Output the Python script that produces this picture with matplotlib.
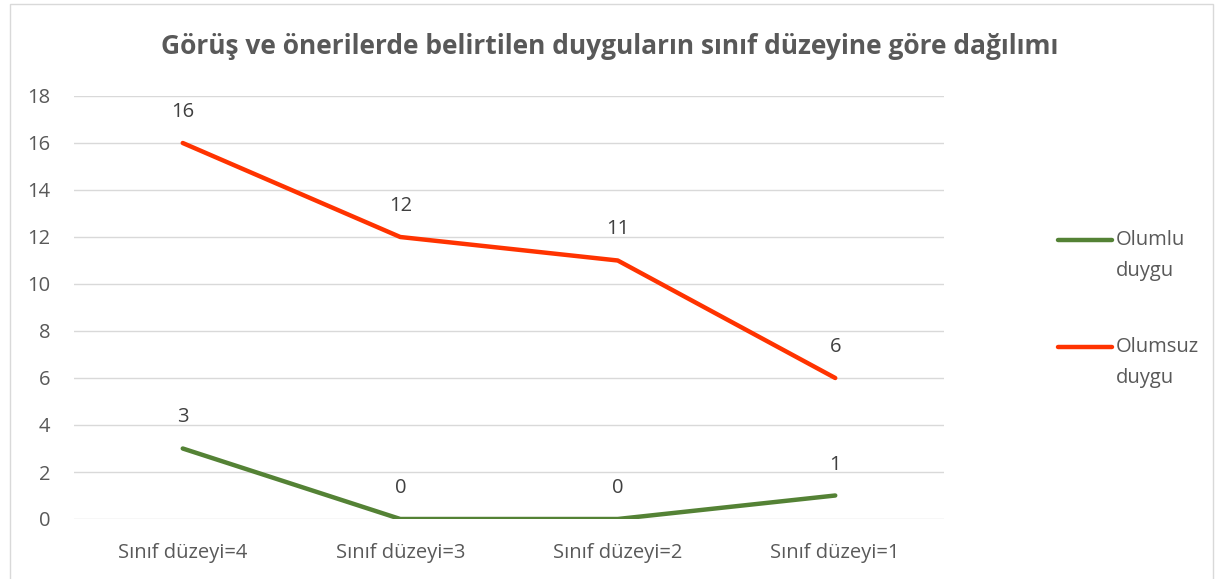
import matplotlib
matplotlib.use("Agg")
import matplotlib.pyplot as plt
from matplotlib.patches import Rectangle
from matplotlib.lines import Line2D

categories = ["Sınıf düzeyi=4", "Sınıf düzeyi=3", "Sınıf düzeyi=2", "Sınıf düzeyi=1"]
olumlu = [3, 0, 0, 1]
olumsuz = [16, 12, 11, 6]
series_names = ["Olumlu\nduygu", "Olumsuz\nduygu"]
title = "Görüş ve önerilerde belirtilen duyguların sınıf düzeyine göre dağılımı"

plt.rcParams['font.family'] = ['Open Sans', 'DejaVu Sans']
txt = "#595959"
W, H = 1220, 579

fig = plt.figure(figsize=(12.2, 5.79), dpi=100)
ax = fig.add_axes([74 / W, 1 - 519 / H, 870 / W, 423 / H])

x = list(range(len(categories)))
l1, = ax.plot(x, olumlu, color="#548235", lw=3.2, solid_capstyle="round")
l2, = ax.plot(x, olumsuz, color="#FF3300", lw=3.2, solid_capstyle="round")

for series in (olumlu, olumsuz):
    for xi, v in zip(x, series):
        ax.annotate(str(v), (xi, v), xytext=(0, 31), textcoords="offset pixels",
                    ha="center", va="center", fontsize=14.5, color="#404040")

ax.set_xlim(-0.5, len(categories) - 0.5)
ax.set_ylim(0, 18)
ax.set_yticks(range(0, 19, 2))
ax.set_xticks(x)
ax.set_xticklabels(categories)
ax.grid(axis="y", color="#D9D9D9", lw=1)
ax.set_axisbelow(True)
for s in ax.spines.values():
    s.set_visible(False)
ax.tick_params(length=0, colors=txt, labelsize=14.5)
ax.tick_params(axis="x", pad=17)
ax.tick_params(axis="y", pad=17)

fig.text(0.5, 1 - 46 / H, title, ha="center", va="center", fontsize=19, fontweight="bold", color=txt)

# legend
for line, name, yc in ((l1, series_names[0], 240), (l2, series_names[1], 347)):
    fig.add_artist(Line2D([1058 / W, 1112 / W], [1 - yc / H, 1 - yc / H], transform=fig.transFigure,
                          color=line.get_color(), lw=3.2, solid_capstyle="round"))
    fig.text(1116 / W, 1 - (yc - 10) / H, name, ha="left", va="top", fontsize=14.5,
             color=txt, linespacing=1.75)

fig.add_artist(Rectangle((10 / W, -0.05), 1203 / W, 1.05 - 4 / H, transform=fig.transFigure,
                         fill=False, edgecolor="#D9D9D9", lw=1))

fig.savefig("out.png", dpi=100)
